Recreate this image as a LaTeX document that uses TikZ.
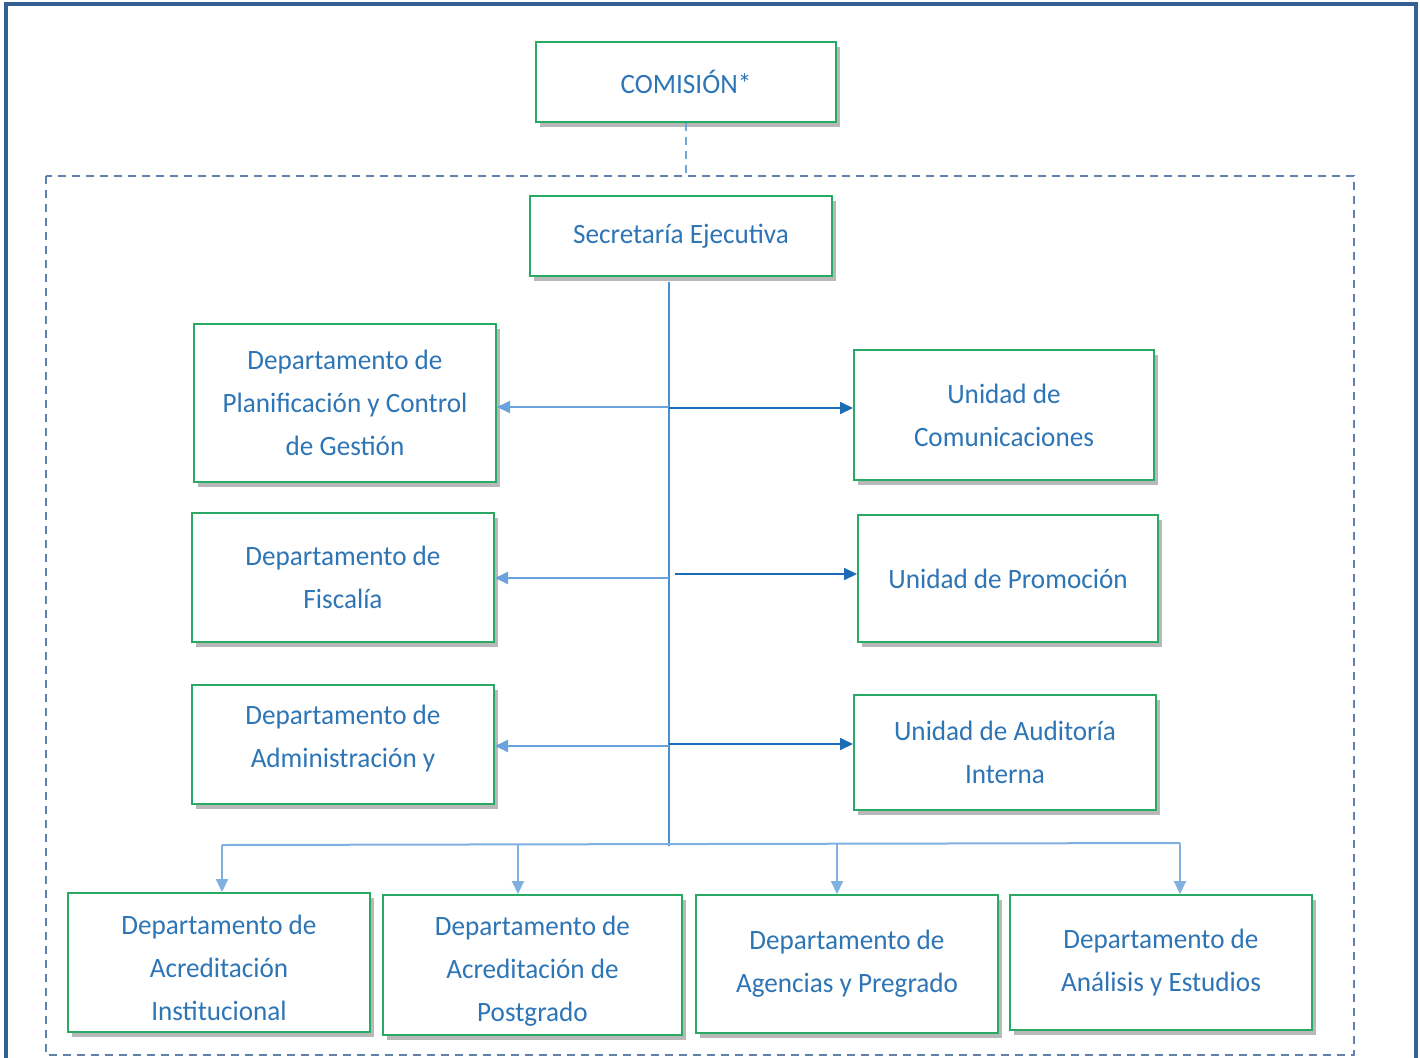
\documentclass[tikz,border=0pt]{standalone}
\usepackage{fontspec}
\setmainfont{Carlito}[FakeStretch=0.97]
\usetikzlibrary{arrows.meta,shadows}
\definecolor{txt}{RGB}{46,117,182}
\definecolor{boxgreen}{RGB}{40,170,100}
\definecolor{framecol}{RGB}{52,96,148}
\definecolor{dashcol}{RGB}{95,130,170}
\definecolor{trunkcol}{RGB}{74,144,208}
\definecolor{leftcol}{RGB}{106,163,219}
\definecolor{rightcol}{RGB}{26,107,184}
\definecolor{buscol}{RGB}{127,176,224}
\begin{document}
\begin{tikzpicture}[x=0.5pt,y=-0.5pt,
  boxtext/.style={text=txt, align=center, font=\fontsize{14}{21.5}\selectfont, inner sep=0pt},
  box/.style={boxtext, draw=boxgreen, line width=1pt, fill=white,
    drop shadow={shadow xshift=2pt, shadow yshift=-2.5pt, opacity=0.28, fill=black}},
  tip/.style={-{Triangle[length=6.5pt,width=6pt]}},
  leftarrow/.style={tip, draw=leftcol, line width=1pt},
  rightarrow/.style={tip, draw=rightcol, line width=0.9pt},
  busarrow/.style={tip, draw=buscol, line width=1pt},
]
\clip (0,0) rectangle (1420,1057);
\fill[white] (0,0) rectangle (1420,1057);
% outer frame and dashed region
\draw[framecol, line width=2pt] (5.5,4) rectangle (1416,1070);
\draw[dashcol, line width=0.8pt, dash pattern=on 4pt off 3pt] (46,176) rectangle (1354,1055);

% boxes
\node[box, minimum width=150pt, minimum height=40pt] (com) at (686,82) {COMISIÓN*};
\node[box, minimum width=151pt, minimum height=40pt] (sec) at (681,236) {Secretaría Ejecutiva};
\node[box, minimum width=151pt, minimum height=79pt] (plan) at (345,403) {Departamento de\\Planificación y Control\\de Gestión};
\node[box, minimum width=151pt, minimum height=64.5pt] (fisc) at (343,577.5) {Departamento de\\Fiscalía};
\node[box, minimum width=151pt, minimum height=59.5pt] (adm) at (343,744.5) {};
\node[boxtext] (admtext) at ([yshift=3pt]adm.center) {Departamento de\\Administración y};
\node[box, minimum width=150pt, minimum height=65pt] (comu) at (1004,415) {Unidad de\\Comunicaciones};
\node[box, minimum width=150pt, minimum height=63.5pt] (prom) at (1008,578.5) {Unidad de Promoción};
\node[box, minimum width=151pt, minimum height=57.5pt] (aud) at (1005,752.5) {Unidad de Auditoría\\Interna};
\node[box, minimum width=151pt, minimum height=69.5pt] (ai) at (219,962.5) {};
\node[boxtext] (aitext) at ([yshift=-2.5pt]ai.center) {Departamento de\\Acreditación\\Institucional};
\node[box, minimum width=149.5pt, minimum height=70pt] (ap) at (532.5,965) {};
\node[boxtext] (aptext) at ([yshift=-3pt]ap.center) {Departamento de\\Acreditación de\\Postgrado};
\node[box, minimum width=151pt, minimum height=69pt] (ag) at (847,964) {Departamento de\\Agencias y Pregrado};
\node[box, minimum width=151pt, minimum height=67.5pt] (an) at (1161,962.5) {Departamento de\\Análisis y Estudios};

% COMISION link
\coordinate (ctop) at (686,176);
\draw[trunkcol!80, line width=0.8pt, dash pattern=on 4pt off 3pt] (com.south) -- (ctop);

% trunk
\coordinate (tt) at (669,282);
\coordinate (tb) at (669,845);
\draw[trunkcol, line width=1.1pt] (tt) -- (tb);

% left arrows
\coordinate (l1) at (669,407);
\coordinate (l2) at (669,578);
\coordinate (l3) at (669,746);
\draw[leftarrow] (l1) -- (l1 -| plan.east);
\draw[leftarrow] (l2) -- (l2 -| fisc.east);
\draw[leftarrow] (l3) -- (l3 -| adm.east);

% right arrows
\coordinate (r1) at (669,408);
\coordinate (r2) at (675,574);
\coordinate (r3) at (669,744);
\draw[rightarrow] (r1) -- (r1 -| comu.west);
\draw[rightarrow] (r2) -- (r2 -| prom.west);
\draw[rightarrow] (r3) -- (r3 -| aud.west);

% bottom bus
\coordinate (b1) at (222,845);
\coordinate (b2) at (518,845);
\coordinate (b3) at (837,844);
\coordinate (b4) at (1180,843);
\draw[buscol, line width=1pt] (b1) -- (b4);
\draw[busarrow] (b1) -- (b1 |- ai.north);
\draw[busarrow] (b2) -- (b2 |- ap.north);
\draw[busarrow] (b3) -- (b3 |- ag.north);
\draw[busarrow] (b4) -- (b4 |- an.north);
\draw[trunkcol, line width=1.1pt] (tb) -- ++(0,1);
\end{tikzpicture}
\end{document}
